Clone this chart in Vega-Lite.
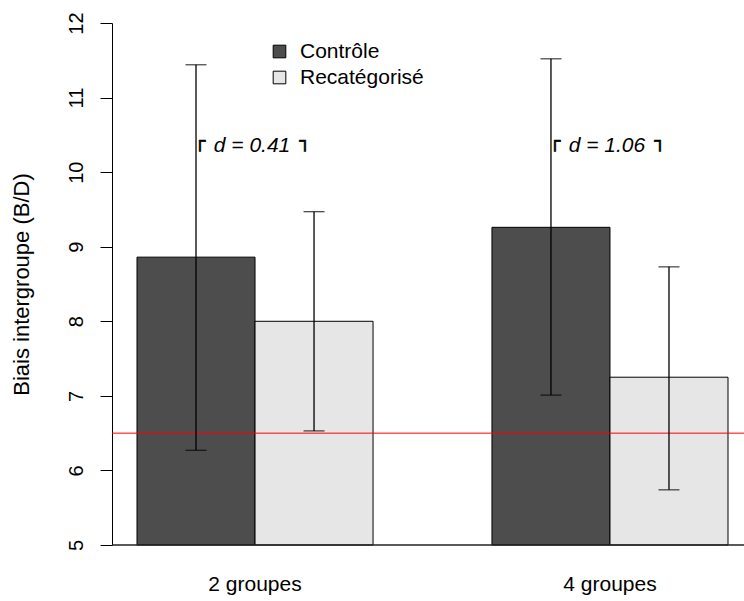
{
  "$schema": "https://vega.github.io/schema/vega-lite/v6.json",
  "width": 632,
  "height": 522,
  "autosize": {"type": "none"},
  "padding": {"left": 112, "top": 23, "right": 0, "bottom": 56},
  "background": "white",
  "config": {"view": {"stroke": null}, "font": "Liberation Sans", "axis": {"grid": false}},
  "datasets": {
    "bars": [
      {"groupe": "2 groupes", "condition": "Contrôle", "moyenne": 8.86, "bas": 6.27, "haut": 11.44},
      {"groupe": "2 groupes", "condition": "Recatégorisé", "moyenne": 8.0, "bas": 6.53, "haut": 9.47},
      {"groupe": "4 groupes", "condition": "Contrôle", "moyenne": 9.26, "bas": 7.01, "haut": 11.52},
      {"groupe": "4 groupes", "condition": "Recatégorisé", "moyenne": 7.25, "bas": 5.74, "haut": 8.73}
    ],
    "effets": [
      {"groupe": "2 groupes", "label": "d = 0.41", "niveau": 10.27},
      {"groupe": "4 groupes", "label": "d = 1.06", "niveau": 10.27}
    ],
    "reference": [{"valeur": 6.5}],
    "base": [{"valeur": 5}]
  },
  "layer": [
    {
      "data": {"name": "bars"},
      "mark": {"type": "bar", "stroke": "black", "strokeWidth": 1},
      "encoding": {
        "x": {"field": "groupe", "type": "nominal", "scale": {"range": [25, 616], "paddingInner": 0.335, "paddingOuter": 0},
              "axis": {"title": null, "domain": false, "ticks": false, "labelFontSize": 21, "labelPadding": 28, "labelColor": "black", "labelAngle": 0}},
        "xOffset": {"field": "condition", "type": "nominal", "sort": ["Contrôle", "Recatégorisé"], "scale": {"paddingInner": 0, "paddingOuter": 0}},
        "y": {"field": "moyenne", "type": "quantitative", "scale": {"domain": [5, 12], "nice": false, "zero": false},
              "axis": {"values": [5, 6, 7, 8, 9, 10, 11, 12], "format": "d", "tickSize": 12, "tickColor": "black", "domainColor": "black", "labelAngle": -90, "labelAlign": "center", "labelBaseline": "bottom", "labelPadding": 14, "labelFontSize": 20, "labelColor": "black", "labelFlush": false, "labelOverlap": false, "title": "Biais intergroupe (B/D)", "titleFontSize": 22, "titleFontWeight": "normal", "titleColor": "black", "titlePadding": 33}},
        "y2": {"datum": 5},
        "color": {"field": "condition", "type": "nominal", "scale": {"domain": ["Contrôle", "Recatégorisé"], "range": ["#4d4d4d", "#e6e6e6"]},
                  "legend": {"orient": "none", "legendX": 157, "legendY": 18, "title": null, "symbolType": "square", "symbolSize": 160, "symbolStrokeColor": "black", "symbolStrokeWidth": 1, "symbolOpacity": 1, "labelFontSize": 21, "labelOffset": 10, "labelColor": "black", "rowPadding": 4, "padding": 0}}
      }
    },
    {
      "data": {"name": "base"},
      "mark": {"type": "rule", "color": "#222222", "strokeWidth": 1.5},
      "encoding": {"y": {"field": "valeur", "type": "quantitative"}}
    },
    {
      "data": {"name": "reference"},
      "mark": {"type": "rule", "color": "#ff0000", "strokeWidth": 1},
      "encoding": {"y": {"field": "valeur", "type": "quantitative"}}
    },
    {
      "data": {"name": "bars"},
      "mark": {"type": "rule", "color": "black", "strokeWidth": 1.3},
      "encoding": {
        "x": {"field": "groupe", "type": "nominal"},
        "xOffset": {"field": "condition", "type": "nominal", "sort": ["Contrôle", "Recatégorisé"]},
        "y": {"field": "bas", "type": "quantitative"},
        "y2": {"field": "haut"}
      }
    },
    {
      "data": {"name": "bars"},
      "mark": {"type": "tick", "orient": "horizontal", "color": "black", "size": 21, "thickness": 1.3},
      "encoding": {
        "x": {"field": "groupe", "type": "nominal"},
        "xOffset": {"field": "condition", "type": "nominal", "sort": ["Contrôle", "Recatégorisé"]},
        "y": {"field": "bas", "type": "quantitative"}
      }
    },
    {
      "data": {"name": "bars"},
      "mark": {"type": "tick", "orient": "horizontal", "color": "black", "size": 21, "thickness": 1.3},
      "encoding": {
        "x": {"field": "groupe", "type": "nominal"},
        "xOffset": {"field": "condition", "type": "nominal", "sort": ["Contrôle", "Recatégorisé"]},
        "y": {"field": "haut", "type": "quantitative"}
      }
    },
    {
      "data": {"name": "effets"},
      "mark": {"type": "text", "fontStyle": "italic", "fontSize": 21, "align": "center", "baseline": "alphabetic", "dx": -3, "color": "black"},
      "encoding": {
        "x": {"field": "groupe", "type": "nominal"},
        "y": {"field": "niveau", "type": "quantitative"},
        "text": {"field": "label"}
      }
    },
    {
      "data": {"name": "effets"},
      "mark": {"type": "text", "text": "┌", "font": "DejaVu Sans", "fontSize": 18, "align": "left", "baseline": "alphabetic", "dx": -60.6, "dy": -5, "color": "black", "stroke": "black", "strokeWidth": 0.7},
      "encoding": {
        "x": {"field": "groupe", "type": "nominal"},
        "y": {"field": "niveau", "type": "quantitative"}
      }
    },
    {
      "data": {"name": "effets"},
      "mark": {"type": "text", "text": "┐", "font": "DejaVu Sans", "fontSize": 18, "align": "left", "baseline": "alphabetic", "dx": 44.6, "dy": -5, "color": "black", "stroke": "black", "strokeWidth": 0.7},
      "encoding": {
        "x": {"field": "groupe", "type": "nominal"},
        "y": {"field": "niveau", "type": "quantitative"}
      }
    }
  ]
}
